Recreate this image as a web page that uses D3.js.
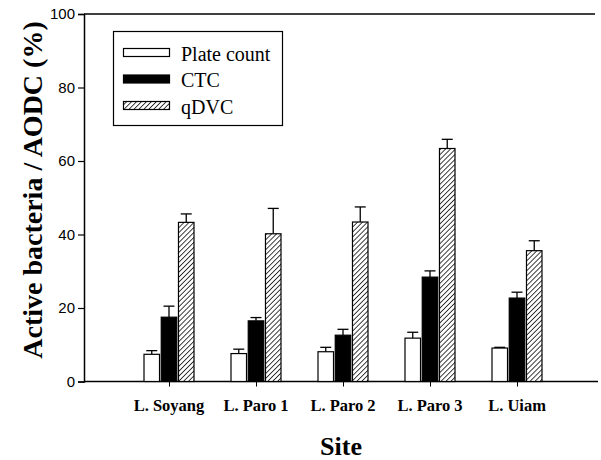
<!DOCTYPE html>
<html>
<head>
<meta charset="utf-8">
<script src="https://cdn.jsdelivr.net/npm/d3@7"></script>
<style>
  body { margin: 0; background: #fff; }
  svg { display: block; }
</style>
</head>
<body>
<div id="chart"></div>
<script>
// data
const sites = ['L. Soyang', 'L. Paro 1', 'L. Paro 2', 'L. Paro 3', 'L. Uiam'];
const seriesNames = ['Plate count', 'CTC', 'qDVC'];
const plateCount = [7.4, 7.6, 8.1, 11.8, 9.1];
const plateErr = [1.0, 1.2, 1.2, 1.6, 0.2];
const ctc = [17.5, 16.5, 12.6, 28.4, 22.7];
const ctcErr = [3.0, 0.9, 1.6, 1.7, 1.6];
const qdvc = [43.3, 40.2, 43.4, 63.4, 35.6];
const qdvcErr = [2.3, 6.9, 4.1, 2.5, 2.7];
const yTicks = [0, 20, 40, 60, 80, 100];

const w = 601, h = 460;
const padLeft = 84, padRight = 598, padTop = 14, padBottom = 381.5;

const svg = d3.select('#chart').append('svg')
    .attr('width', w)
    .attr('height', h);

// hatch for qDVC
const defs = svg.append('defs');
defs.append('pattern')
    .attr('id', 'hatch')
    .attr('patternUnits', 'userSpaceOnUse')
    .attr('width', 3.5)
    .attr('height', 3.5)
    .attr('patternTransform', 'rotate(45)')
    .call(p => {
        p.append('rect').attr('width', 3.5).attr('height', 3.5).attr('fill', '#fff');
        p.append('line').attr('x1', 0).attr('y1', 0).attr('x2', 0).attr('y2', 3.5)
            .attr('stroke', '#000').attr('stroke-width', 1.5);
    });

const fills = ['#fff', '#000', 'url(#hatch)'];

const yScale = d3.scaleLinear().domain([0, 100]).range([padBottom, padTop]);
const xScale = d3.scalePoint().domain(sites).range([82, 604]).padding(1);
const sub = d3.scaleBand().domain(seriesNames).range([-25, 25]).paddingInner(0.1);

// y axis
const yAxis = d3.axisLeft(yScale).tickValues(yTicks).tickSize(6).tickPadding(3);
const gy = svg.append('g')
    .attr('transform', `translate(${padLeft},0)`)
    .call(yAxis);
gy.select('.domain').attr('stroke-width', 1.5);
gy.selectAll('.tick line').attr('stroke-width', 1.2);
gy.selectAll('.tick text')
    .attr('font-family', 'Liberation Sans, Arial, sans-serif')
    .attr('font-size', 15)
    .attr('fill', '#000');

// top frame line
svg.append('line')
    .attr('x1', padLeft).attr('x2', 595)
    .attr('y1', yScale(100)).attr('y2', yScale(100))
    .attr('stroke', '#000').attr('stroke-width', 1.5);

// x axis
const xAxis = d3.axisBottom(xScale).tickSize(5).tickSizeOuter(0).tickFormat('');
const gx = svg.append('g')
    .attr('transform', `translate(0,${padBottom})`)
    .call(xAxis);
gx.select('.domain').attr('d', `M${padLeft},0H${padRight}`).attr('stroke-width', 1.5);

svg.append('g').selectAll('text')
    .data(sites)
    .enter()
    .append('text')
    .attr('x', d => xScale(d))
    .attr('y', 411)
    .attr('text-anchor', 'middle')
    .attr('font-family', 'Liberation Serif, Times New Roman, serif')
    .attr('font-weight', 'bold')
    .attr('font-size', 16.5)
    .text(d => d);

// bars
const rows = [];
sites.forEach((s, i) => {
    rows.push({ site: s, series: 0, v: plateCount[i], e: plateErr[i] });
    rows.push({ site: s, series: 1, v: ctc[i], e: ctcErr[i] });
    rows.push({ site: s, series: 2, v: qdvc[i], e: qdvcErr[i] });
});

const bx = d => xScale(d.site) + sub(seriesNames[d.series]);
const bw = sub.bandwidth();

// error bars (upper only)
const eb = svg.append('g').attr('stroke', '#000').attr('stroke-width', 1.3);
eb.selectAll('line.v')
    .data(rows)
    .enter()
    .append('line')
    .attr('x1', d => bx(d) + bw / 2)
    .attr('x2', d => bx(d) + bw / 2)
    .attr('y1', d => yScale(d.v))
    .attr('y2', d => yScale(d.v + d.e));
eb.selectAll('line.c')
    .data(rows)
    .enter()
    .append('line')
    .attr('x1', d => bx(d) + bw / 2 - 5.5)
    .attr('x2', d => bx(d) + bw / 2 + 5.5)
    .attr('y1', d => yScale(d.v + d.e))
    .attr('y2', d => yScale(d.v + d.e));

svg.append('g').selectAll('rect')
    .data(rows)
    .enter()
    .append('rect')
    .attr('x', d => bx(d))
    .attr('y', d => yScale(d.v))
    .attr('width', bw)
    .attr('height', d => yScale(0) - yScale(d.v))
    .attr('fill', d => fills[d.series])
    .attr('stroke', '#000')
    .attr('stroke-width', 1.2);

// legend
const lg = svg.append('g');
lg.append('rect')
    .attr('x', 113.5).attr('y', 31.5)
    .attr('width', 169).attr('height', 94)
    .attr('fill', '#fff').attr('stroke', '#000').attr('stroke-width', 1.2);
seriesNames.forEach((name, i) => {
    const cy = 52.5 + i * 26.5;
    lg.append('rect')
        .attr('x', 123.5).attr('y', cy - 4)
        .attr('width', 46).attr('height', 8)
        .attr('fill', fills[i]).attr('stroke', '#000').attr('stroke-width', 1.2);
    lg.append('text')
        .attr('x', 181).attr('y', cy + 8)
        .attr('font-family', 'Liberation Serif, Times New Roman, serif')
        .attr('font-size', 20)
        .text(name);
});

// axis titles
svg.append('text')
    .attr('transform', 'translate(42,190) rotate(-90)')
    .attr('text-anchor', 'middle')
    .attr('font-family', 'Liberation Serif, Times New Roman, serif')
    .attr('font-weight', 'bold')
    .attr('font-size', 28)
    .text('Active bacteria / AODC (%)');

svg.append('text')
    .attr('x', 341).attr('y', 455)
    .attr('text-anchor', 'middle')
    .attr('font-family', 'Liberation Serif, Times New Roman, serif')
    .attr('font-weight', 'bold')
    .attr('font-size', 26)
    .text('Site');
</script>
</body>
</html>
